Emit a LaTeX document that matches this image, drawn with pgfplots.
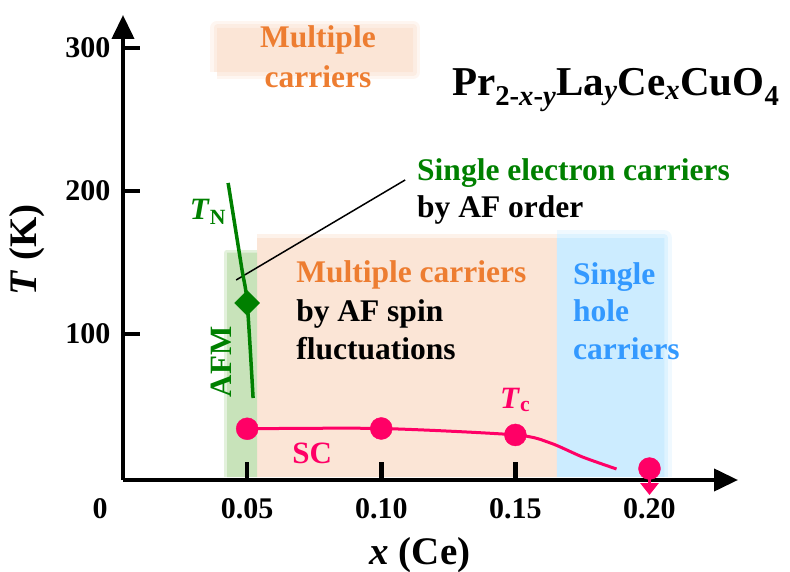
\documentclass[border=0pt]{standalone}
\usepackage{fontspec}
\setmainfont{Liberation Serif}
\usepackage{pgfplots}
\pgfplotsset{compat=1.18}
\usetikzlibrary{arrows.meta}
\definecolor{peach}{RGB}{251,229,214}
\definecolor{afmfill}{RGB}{200,227,186}
\definecolor{bluefill}{RGB}{204,236,255}
\definecolor{bluetxt}{RGB}{51,153,255}
\definecolor{orangetxt}{RGB}{237,125,49}
\definecolor{dgreen}{RGB}{0,128,0}
\definecolor{pinkc}{RGB}{255,0,102}
\newcommand{\fs}[1]{\fontsize{#1bp}{#1bp}\selectfont}
\tikzset{lbl/.style={anchor=base west, inner sep=0pt, outer sep=0pt, font=\fs{31.5}\bfseries}}
\begin{document}
\begin{tikzpicture}
\begin{axis}[
  at={(123bp,92bp)}, anchor=south west,
  scale only axis, width=615bp, height=465bp,
  xmin=0.0037, xmax=0.233, ymin=-2, ymax=323,
  axis x line=bottom, axis y line=left,
  axis line style={line width=4bp, -{Triangle[width=22bp,length=24bp]}},
  xtick align=inside, ytick align=inside,
  major tick length=17bp,
  every tick/.style={line width=4bp, black},
  xtick={0.05,0.10,0.15,0.20}, xticklabels={0.05,0.10,0.15,0.20},
  ytick={100,200,300}, yticklabels={100,200,300},
  ticklabel style={font=\fs{30}\bfseries},
  xticklabel style={yshift=-15bp},
  yticklabel style={xshift=-9bp},
  clip=false,
  xlabel={\textbf{\textit{x} (Ce)}},
  ylabel={\textbf{\textit{T} (K)}},
  xlabel style={at={(axis description cs:0.483,-0.162)}, anchor=center, font=\fs{39}},
  ylabel style={at={(axis description cs:-0.156,0.495)}, anchor=center, font=\fs{39}},
]
% background bands
\addplot[fill=peach, draw=none] coordinates {(0.0537,0) (0.1655,0) (0.1655,167) (0.0537,167) (0.0537,0)};
\addplot[draw=peach, line width=8bp, opacity=0.5] coordinates {(0.0537,167) (0.1655,167)};
\addplot[fill=bluefill, draw=none] coordinates {(0.1655,0) (0.2055,0) (0.2055,167) (0.1655,167) (0.1655,0)};
\addplot[draw=bluefill, line width=16bp, opacity=0.3, line join=round] coordinates {(0.1655,167) (0.2055,167) (0.2055,0)};
\addplot[draw=bluefill, line width=8bp, opacity=0.5, line join=round] coordinates {(0.1655,167) (0.2055,167) (0.2055,0)};
\addplot[fill=afmfill, draw=none] coordinates {(0.0425,0) (0.0537,0) (0.0537,157) (0.0425,157) (0.0425,0)};
\addplot[draw=afmfill, line width=6bp, opacity=0.5, line join=round] coordinates {(0.0425,0) (0.0425,157) (0.0537,157)};
% top box
\addplot[fill=peach, draw=none] coordinates {(0.0388,283) (0.1119,283) (0.1119,314) (0.0388,314) (0.0388,283)};
\addplot[draw=peach, line width=14bp, opacity=0.35, line join=round] coordinates {(0.0388,283) (0.1119,283) (0.1119,314) (0.0388,314) (0.0388,283)};
\addplot[draw=peach, line width=7bp, opacity=0.5, line join=round] coordinates {(0.0388,283) (0.1119,283) (0.1119,314) (0.0388,314) (0.0388,283)};
% x tick marks (inward)
\addplot[black, line width=4.5bp] coordinates {(0.05,-2) (0.05,10.5)};
\addplot[black, line width=4.5bp] coordinates {(0.10,-2) (0.10,10.5)};
\addplot[black, line width=4.5bp] coordinates {(0.15,-2) (0.15,10.5)};
% pointer line
\addplot[black, line width=1.5bp] coordinates {(0.0459,137.8) (0.1089,207.7)};
% T_N line
\addplot[dgreen, line width=3.5bp, smooth] coordinates {(0.0429,205.6) (0.0479,146.9) (0.05,121.7) (0.0522,55.3)};
\addplot[only marks, mark=square*, mark size=8.8bp, mark options={rotate=45, fill=dgreen, draw=dgreen}] coordinates {(0.05,121.7)};
% T_c line
\addplot[pinkc, line width=3bp, smooth, tension=0.45] coordinates {(0.05,33.8) (0.10,34.0) (0.15,29.5) (0.163,23.9) (0.175,14.1) (0.1877,5.7)};
\addplot[only marks, mark=*, mark size=11bp, mark options={fill=pinkc, draw=pinkc}] coordinates {(0.05,33.8) (0.10,34.0) (0.15,29.5) (0.20,6)};
\addplot[pinkc, line width=3bp, -{Triangle[width=18bp,length=12bp]}] coordinates {(0.20,6) (0.20,-12.5)};
% texts
\node[anchor=north, font=\fs{30}\bfseries, yshift=-15bp] at (axis cs:-0.0048,-2) {0};
\node[align=center, text=orangetxt, font=\fs{31.5}\bfseries] at (axis cs:0.0764,294) {Multiple\\[9bp]carriers};
\node[lbl, font=\fs{41}\bfseries] at (axis cs:0.1264,267) {Pr\textsubscript{2-\textit{x}-\textit{y}}La\textsubscript{\textit{y}}Ce\textsubscript{\textit{x}}CuO\textsubscript{4}};
\node[lbl, text=dgreen] at (axis cs:0.1134,207.5) {Single electron carriers};
\node[lbl] at (axis cs:0.1134,181.5) {by AF order};
\node[lbl, text=orangetxt] at (axis cs:0.0683,135.7) {Multiple carriers};
\node[lbl] at (axis cs:0.0683,108.5) {by AF spin};
\node[lbl] at (axis cs:0.0683,81.9) {fluctuations};
\node[lbl, text=bluetxt] at (axis cs:0.1715,134.3) {Single};
\node[lbl, text=bluetxt] at (axis cs:0.1715,108.5) {hole};
\node[lbl, text=bluetxt] at (axis cs:0.1715,81.9) {carriers};
\node[text=dgreen, font=\fs{31}\bfseries] at (axis cs:0.0354,185.3) {\textit{T}\textsubscript{N}};
\node[rotate=90, text=dgreen, font=\fs{31}\bfseries] at (axis cs:0.0405,80.5) {AFM};
\node[text=pinkc, font=\fs{31}\bfseries] at (axis cs:0.0742,16.9) {SC};
\node[text=pinkc, font=\fs{31}\bfseries] at (axis cs:0.1499,53.9) {\textit{T}\textsubscript{c}};
\end{axis}
\pgfresetboundingbox
\path[use as bounding box] (0,0) rectangle (790bp,572bp);
\end{tikzpicture}
\end{document}
